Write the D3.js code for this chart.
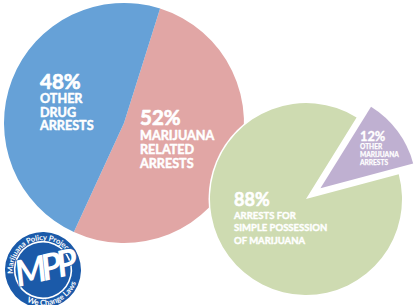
<!DOCTYPE html>
<html><head><meta charset="utf-8">
<script src="https://cdn.jsdelivr.net/npm/d3@7"></script>
<style>
html,body{margin:0;padding:0;background:#fff;}
svg{display:block;}
text{font-family:Lato,"Open Sans",sans-serif;font-weight:700;fill:#fff;}
.lab{stroke:#fff;stroke-linejoin:round;}
</style></head>
<body>
<script>
// ---- data ----
const pie1Categories = ["Marijuana related arrests", "Other drug arrests"];
const pie1Values = [52, 48];
const pie1Labels = [["52%", "MARIJUANA", "RELATED", "ARRESTS"], ["48%", "OTHER", "DRUG", "ARRESTS"]];
const pie1Colors = ["#e1a6a5", "#66a1d7"];

const pie2Categories = ["Arrests for simple possession of marijuana", "Other marijuana arrests"];
const pie2Values = [88, 12];
const pie2Labels = [["88%", "ARRESTS FOR", "SIMPLE POSSESSION", "OF MARIJUANA"], ["12%", "OTHER", "MARIJUANA", "ARRESTS"]];
const pie2Colors = ["#cedbb1", "#bfb0d1"];

const logoTop = "Marijuana Policy Project";
const logoBottom = "We Change Laws";
const logoMark = "MPP";

// ---- layout ----
const W = 420, H = 305;
const deg = Math.PI / 180;
const svg = d3.select("body").append("svg").attr("width", W).attr("height", H);

// pie 1
const p1 = {cx: 124, cy: 123, r: 120, start: 17.5};
const pie1 = d3.pie().sort(null).startAngle(p1.start * deg).endAngle(p1.start * deg + 2 * Math.PI);
const arc1 = d3.arc().innerRadius(0).outerRadius(p1.r);
const g1 = svg.append("g").attr("transform", `translate(${p1.cx},${p1.cy})`);
g1.selectAll("path").data(pie1(pie1Values)).join("path")
  .attr("d", arc1).attr("fill", (d, i) => pie1Colors[i]);

// pie 2
const p2 = {cx: 306, cy: 199, r: 96, start: 75, explode: 18};
const pie2 = d3.pie().sort(null).startAngle(p2.start * deg).endAngle(p2.start * deg + 2 * Math.PI);
const arc2 = d3.arc().innerRadius(0).outerRadius(p2.r);
const g2 = svg.append("g").attr("transform", `translate(${p2.cx},${p2.cy})`);
g2.append("circle").attr("r", p2.r + 1.5).attr("fill", "#fff");
g2.selectAll("path.s").data(pie2(pie2Values)).join("path").attr("class", "s")
  .attr("d", arc2).attr("fill", (d, i) => pie2Colors[i])
  .attr("transform", (d, i) => {
    if (i === 0) return null;
    const m = (d.startAngle + d.endAngle) / 2;
    return `translate(${p2.explode * Math.sin(m)},${-p2.explode * Math.cos(m)})`;
  });

// labels
function label(x, y0, lines, big, small, gaps, sw) {
  const t = svg.append("text").attr("class", "lab").attr("x", x).attr("y", y0);
  lines.forEach((s, i) => {
    t.append("tspan").attr("x", x).attr("dy", i === 0 ? 0 : gaps[i - 1])
      .attr("font-size", i === 0 ? big : small)
      .attr("stroke-width", i === 0 ? sw * 1.4 : sw).text(s);
  });
}
label(140, 125, pie1Labels[0], 20.5, 12.6, [15.3, 13.3, 14], 0.5);
label(40, 89.3, pie1Labels[1], 20.5, 12.6, [13.4, 13.8, 13.8], 0.5);
label(234, 206, pie2Labels[0], 18, 9.5, [12.5, 12.7, 12.8], 0.4);
label(360, 140.7, pie2Labels[1], 12.8, 6.6, [8, 8, 8], 0.25);

// logo
const L = {cx: 43, cy: 270, r: 38, rot: -21};
const lg = svg.append("g").attr("transform", `translate(${L.cx},${L.cy}) rotate(${L.rot})`);
const blue = "#1b5aa9";
lg.append("circle").attr("r", L.r).attr("fill", blue);
lg.append("circle").attr("r", 28.3).attr("fill", "none").attr("stroke", "#fff").attr("stroke-width", 1.6);
const rt = 30;
lg.append("path").attr("id", "lt").attr("fill", "none")
  .attr("d", `M ${-rt},0 A ${rt},${rt} 0 0 1 ${rt},0 A ${rt},${rt} 0 0 1 ${-rt},0`);
const rb = 35.5;
lg.append("path").attr("id", "lb").attr("fill", "none")
  .attr("d", `M ${-rb},0 A ${rb},${rb} 0 0 0 ${rb},0 A ${rb},${rb} 0 0 0 ${-rb},0`);
lg.append("text").attr("font-size", 7.6).attr("letter-spacing", -0.1)
  .append("textPath").attr("href", "#lt").attr("startOffset", "25%").attr("text-anchor", "middle").text(logoTop);
lg.append("text").attr("font-size", 7.8)
  .append("textPath").attr("href", "#lb").attr("startOffset", "25%").attr("text-anchor", "middle").text(logoBottom);
lg.append("text").attr("x", 1).attr("y", 11).attr("text-anchor", "middle")
  .attr("transform", "rotate(8)")
  .attr("font-size", 36).attr("font-style", "italic").attr("font-weight", 900)
  .attr("letter-spacing", -5)
  .attr("stroke", blue).attr("stroke-width", 1.6).attr("paint-order", "stroke")
  .text(logoMark);
</script>
</body></html>
